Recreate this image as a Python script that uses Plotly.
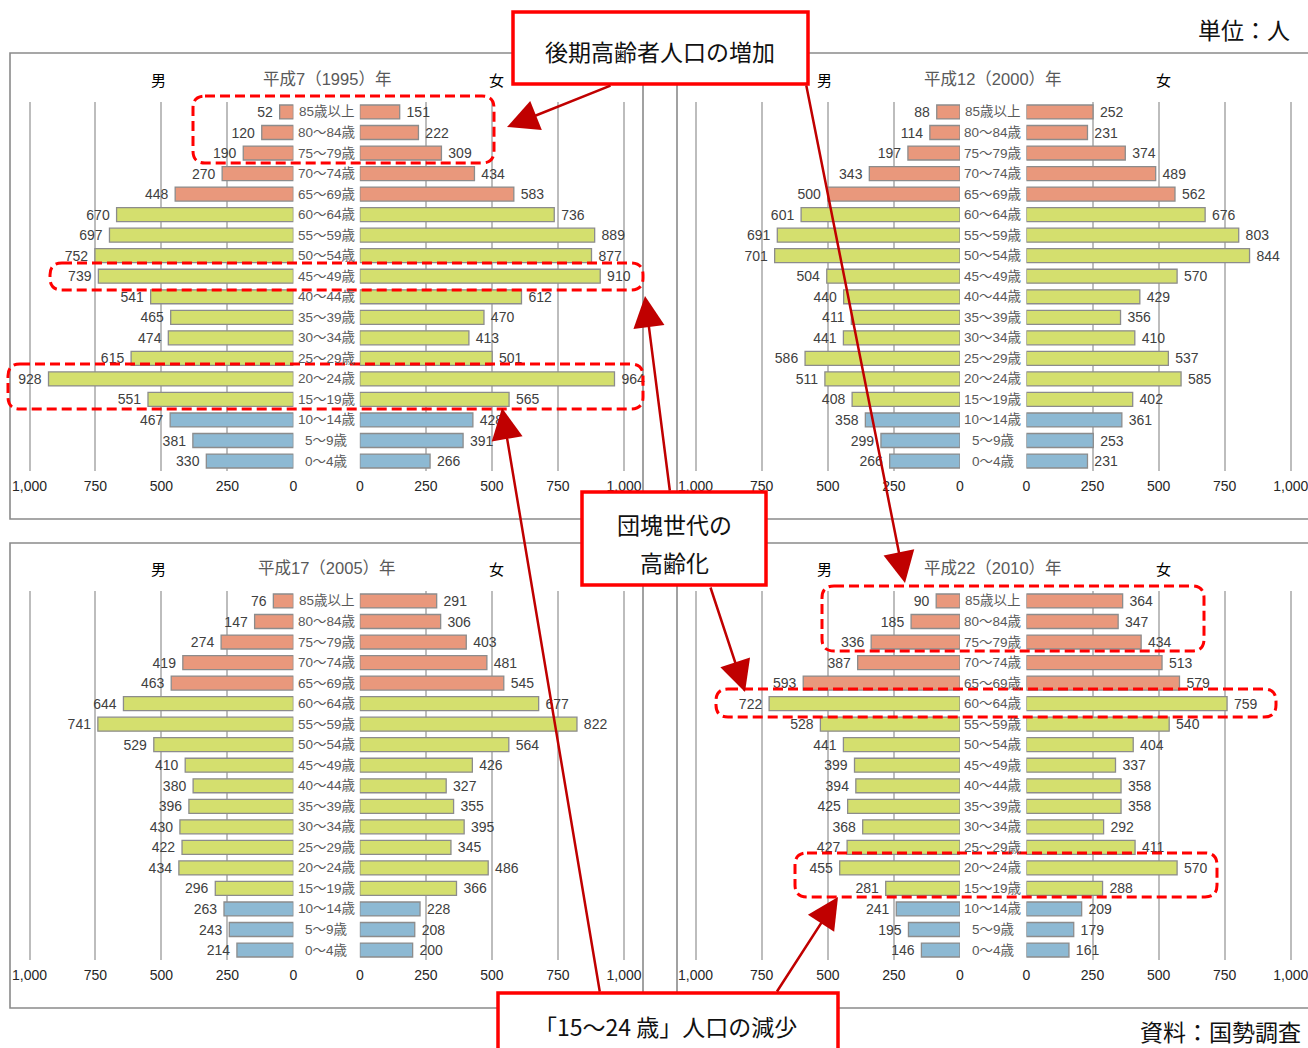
import plotly.graph_objects as go

W, H = 1308, 1048

ages = ["85歳以上", "80〜84歳", "75〜79歳", "70〜74歳", "65〜69歳", "60〜64歳",
        "55〜59歳", "50〜54歳", "45〜49歳", "40〜44歳", "35〜39歳", "30〜34歳",
        "25〜29歳", "20〜24歳", "15〜19歳", "10〜14歳", "5〜9歳", "0〜4歳"]
age_group = ["old"] * 5 + ["work"] * 10 + ["young"] * 3

titles = ["平成7（1995）年", "平成12（2000）年", "平成17（2005）年", "平成22（2010）年"]

male_1995 = [52, 120, 190, 270, 448, 670, 697, 752, 739, 541, 465, 474, 615, 928, 551, 467, 381, 330]
female_1995 = [151, 222, 309, 434, 583, 736, 889, 877, 910, 612, 470, 413, 501, 964, 565, 428, 391, 266]
male_2000 = [88, 114, 197, 343, 500, 601, 691, 701, 504, 440, 411, 441, 586, 511, 408, 358, 299, 266]
female_2000 = [252, 231, 374, 489, 562, 676, 803, 844, 570, 429, 356, 410, 537, 585, 402, 361, 253, 231]
male_2005 = [76, 147, 274, 419, 463, 644, 741, 529, 410, 380, 396, 430, 422, 434, 296, 263, 243, 214]
female_2005 = [291, 306, 403, 481, 545, 677, 822, 564, 426, 327, 355, 395, 345, 486, 366, 228, 208, 200]
male_2010 = [90, 185, 336, 387, 593, 722, 528, 441, 399, 394, 425, 368, 427, 455, 281, 241, 195, 146]
female_2010 = [364, 347, 434, 513, 579, 759, 540, 404, 337, 358, 358, 292, 411, 570, 288, 209, 179, 161]

tick_vals = [0, 250, 500, 750, 1000]
tick_text = ["0", "250", "500", "750", "1,000"]

group_colors = {"old": "#E9987C", "work": "#D4DF6E", "young": "#8DB9D3"}
bar_colors = [group_colors[g] for g in age_group]

NUM_FONT = "Liberation Sans, Arial, Noto Sans CJK JP"
JP_FONT = "Noto Sans CJK JP"

AX_MAX = 1004  # a little headroom so the 1,000 gridline is kept


def px(x):
    return x / W


def py(y):
    return 1 - y / H


# panel layout (pixel positions of 0 and 1000 on each axis)
row_tops = [101.7, 590.7]
row_h = 369.6
col_x = [((293.4, 29.5), (359.8, 624.0)), ((960.0, 695.6), (1026.4, 1290.8))]

panels = [
    (titles[0], male_1995, female_1995, 0, 0),
    (titles[1], male_2000, female_2000, 1, 0),
    (titles[2], male_2005, female_2005, 0, 1),
    (titles[3], male_2010, female_2010, 1, 1),
]

fig = go.Figure()
layout_axes = {}
annotations = []

for i, (title, male, female, c, r) in enumerate(panels):
    yid = i + 1
    xm = 2 * i + 1
    xf = 2 * i + 2
    ytop = row_tops[r]
    ybot = ytop + row_h
    (mz, mk), (fz, fk) = col_x[c]
    mscale = (mz - mk) / 1000.0
    fscale = (fk - fz) / 1000.0
    mdom = (mz - AX_MAX * mscale, mz)
    fdom = (fz, fz + AX_MAX * fscale)
    yname = "yaxis" if yid == 1 else f"yaxis{yid}"
    yref = "y" if yid == 1 else f"y{yid}"
    layout_axes[yname] = dict(
        domain=[py(ybot), py(ytop)], anchor=f"x{xm}" if xm > 1 else "x",
        type="category", categoryorder="array", categoryarray=ages,
        range=[17.5, -0.5], showticklabels=False, showgrid=False,
        zeroline=False, showline=False, ticks="", automargin=False,
    )
    for xid, dom, rng in [(xm, mdom, [AX_MAX, 0]), (xf, fdom, [0, AX_MAX])]:
        xname = "xaxis" if xid == 1 else f"xaxis{xid}"
        layout_axes[xname] = dict(
            domain=[px(dom[0]), px(dom[1])], anchor=yref, range=rng,
            tickvals=tick_vals, ticktext=tick_text, showgrid=True,
            gridcolor="#bdbdbd", gridwidth=1.5, zeroline=False, showline=False,
            ticks="outside", ticklen=2, tickcolor="rgba(0,0,0,0)", automargin=False,
            ticklabeloverflow="allow",
            tickfont=dict(size=14, color="#262626", family=NUM_FONT),
        )
    xmref = "x" if xm == 1 else f"x{xm}"
    xfref = f"x{xf}"
    fig.add_trace(go.Bar(
        y=ages, x=male, orientation="h", xaxis=xmref, yaxis=yref,
        marker=dict(color=bar_colors, line=dict(color="#8c8c8c", width=1.3)),
        text=[f"{v}\u00a0" for v in male], textposition="outside",
        textfont=dict(size=14, color="#404040", family=NUM_FONT),
        cliponaxis=False, constraintext="none", showlegend=False, hoverinfo="skip",
    ))
    fig.add_trace(go.Bar(
        y=ages, x=female, orientation="h", xaxis=xfref, yaxis=yref,
        marker=dict(color=bar_colors, line=dict(color="#8c8c8c", width=1.3)),
        text=[f"\u00a0{v}" for v in female], textposition="outside",
        textfont=dict(size=14, color="#404040", family=NUM_FONT),
        cliponaxis=False, constraintext="none", showlegend=False, hoverinfo="skip",
    ))
    cx = (mz + fz) / 2
    for a in ages:
        annotations.append(dict(
            x=px(cx), xref="paper", y=a, yref=yref, text=a, showarrow=False,
            font=dict(size=13.5, color="#595959", family=NUM_FONT),
            xanchor="center", yanchor="middle",
        ))
    ty = ytop - 22.5
    annotations.append(dict(x=px(cx), y=py(ty), xref="paper", yref="paper", text=title,
                            showarrow=False, font=dict(size=16.5, color="#595959", family=NUM_FONT),
                            xanchor="center", yanchor="middle"))
    annotations.append(dict(x=px(mk + 128.5), y=py(ty), xref="paper", yref="paper", text="男",
                            showarrow=False, font=dict(size=15, color="#000000", family=JP_FONT),
                            xanchor="center", yanchor="middle"))
    annotations.append(dict(x=px(fz + 137), y=py(ty), xref="paper", yref="paper", text="女",
                            showarrow=False, font=dict(size=15, color="#000000", family=JP_FONT),
                            xanchor="center", yanchor="middle"))

shapes = []
# panel frames
for (x0, y0, x1, y1) in [(10, 53, 643, 519), (677, 53, 1312, 519),
                         (10, 543, 643, 1008), (677, 543, 1312, 1008)]:
    shapes.append(dict(type="rect", xref="paper", yref="paper", x0=px(x0), x1=px(x1),
                       y0=py(y1), y1=py(y0), line=dict(color="#8a8a8a", width=1.6),
                       fillcolor="rgba(0,0,0,0)", layer="below"))


def rounded(x0, y0, x1, y1, r=12):
    pts = [
        f"M{px(x0 + r)},{py(y0)}", f"L{px(x1 - r)},{py(y0)}",
        f"Q{px(x1)},{py(y0)} {px(x1)},{py(y0 + r)}", f"L{px(x1)},{py(y1 - r)}",
        f"Q{px(x1)},{py(y1)} {px(x1 - r)},{py(y1)}", f"L{px(x0 + r)},{py(y1)}",
        f"Q{px(x0)},{py(y1)} {px(x0)},{py(y1 - r)}", f"L{px(x0)},{py(y0 + r)}",
        f"Q{px(x0)},{py(y0)} {px(x0 + r)},{py(y0)}", "Z",
    ]
    return " ".join(pts)


for (x0, y0, x1, y1) in [(193, 96, 494, 163), (50, 263, 643, 290), (8, 364, 643, 409),
                         (822, 586, 1204, 651), (716, 689, 1276, 717), (795, 853, 1217, 897)]:
    shapes.append(dict(type="path", xref="paper", yref="paper", path=rounded(x0, y0, x1, y1),
                       line=dict(color="#FF0000", width=3, dash="10px,5px"),
                       fillcolor="rgba(0,0,0,0)", layer="above"))

# callout boxes
for (x0, y0, x1, y1) in [(513, 12, 808, 84), (582, 492, 766, 585), (498, 993, 838, 1070)]:
    shapes.append(dict(type="rect", xref="paper", yref="paper", x0=px(x0), x1=px(x1),
                       y0=py(y1), y1=py(y0), line=dict(color="#FF0000", width=3.5),
                       fillcolor="#FFFFFF", layer="above"))

# arrows (tip, tail)
for (tx, tyy, sx, sy) in [(507, 127, 612, 85), (905, 583, 806, 84), (645, 296, 670, 492),
                          (745, 692, 710, 586), (502, 408, 600, 993), (838, 897, 776, 993)]:
    annotations.append(dict(x=px(tx), y=py(tyy), xref="paper", yref="paper", text="",
                            showarrow=True, ax=sx - tx, ay=sy - tyy, axref="pixel", ayref="pixel",
                            arrowhead=2, arrowsize=2.5, arrowwidth=2.5, arrowcolor="#C00000",
                            standoff=0, startstandoff=0))

callout_font = dict(size=23, color="#111111", family=JP_FONT)
for (txt, x, y, anchor) in [("後期高齢者人口の増加", 660, 51, "center"),
                            ("団塊世代の", 674, 524, "center"),
                            ("高齢化", 674, 562, "center"),
                            ("「15〜24 歳」人口の減少", 665, 1026, "center"),
                            ("単位：人", 1292, 29, "right"),
                            ("資料：国勢調査", 1303, 1031, "right")]:
    annotations.append(dict(x=px(x), y=py(y), xref="paper", yref="paper", text=txt,
                            showarrow=False, font=callout_font, xanchor=anchor,
                            yanchor="middle"))

fig.update_layout(
    width=W, height=H, margin=dict(l=0, r=0, t=0, b=0, autoexpand=False),
    paper_bgcolor="white", plot_bgcolor="rgba(0,0,0,0)",
    barmode="overlay", bargap=0.32, showlegend=False,
    shapes=shapes, annotations=annotations, font=dict(family=JP_FONT),
    **layout_axes,
)

fig.write_html("out.html", config={"displayModeBar": False},
               post_script="document.body.style.margin='0';")
